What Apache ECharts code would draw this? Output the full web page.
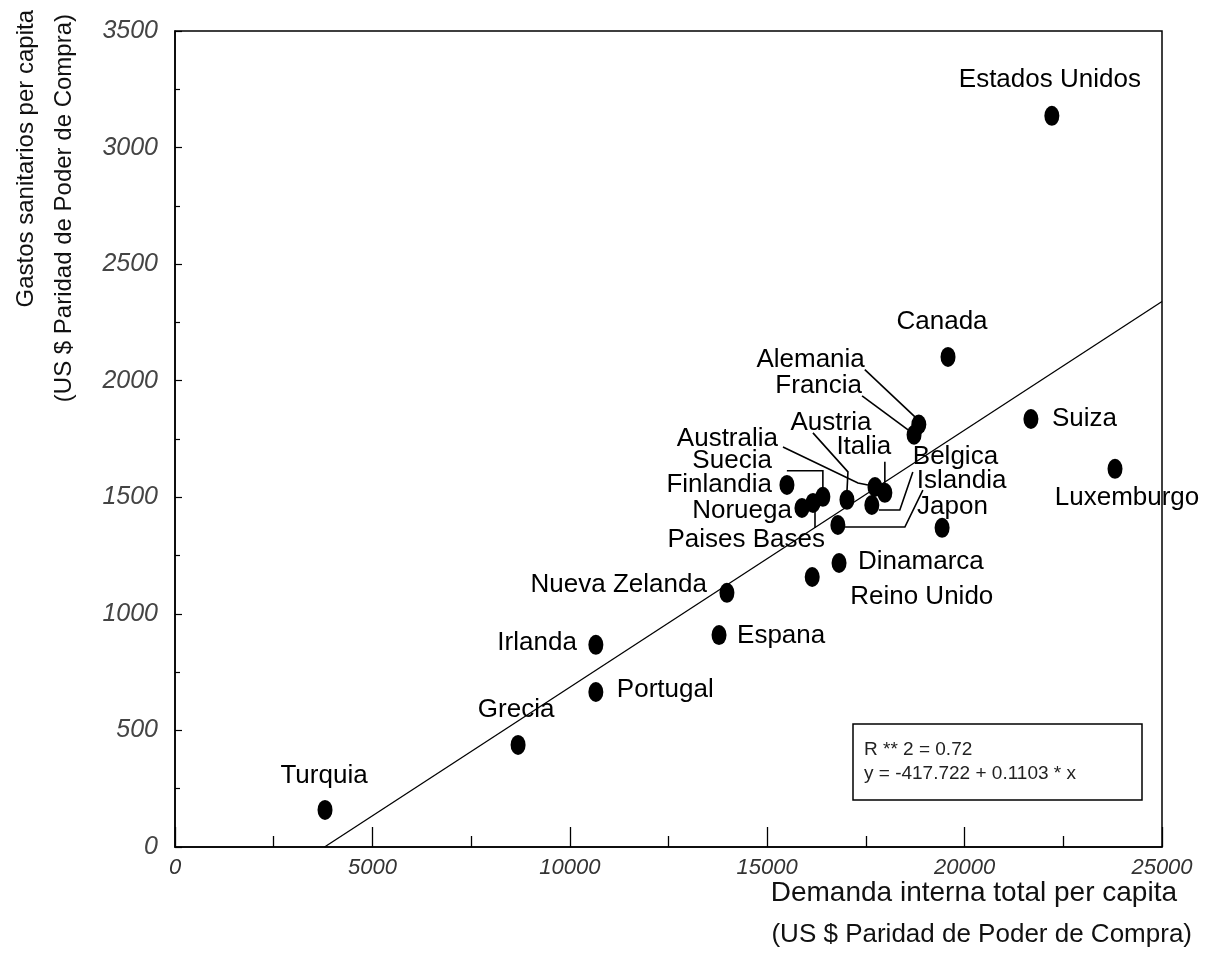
<!DOCTYPE html>
<html>
<head>
<meta charset="utf-8">
<script src="https://cdn.jsdelivr.net/npm/echarts@6/dist/echarts.min.js"></script>
<style>
  html, body { margin: 0; padding: 0; background: #fff; }
  #chart { width: 1211px; height: 965px; }
</style>
</head>
<body>
<div id="chart"></div>
<script>
// ---- data ----
const countries = ['Turquia','Grecia','Irlanda','Portugal','Espana','Nueva Zelanda','Reino Unido','Dinamarca',
  'Islandia','Finlandia','Noruega','Paises Bases','Suecia','Austria','Australia','Italia','Belgica','Japon',
  'Francia','Alemania','Canada','Suiza','Luxemburgo','Estados Unidos'];
const demandPerCapita = [3800, 8690, 10660, 10660, 13780, 13980, 16140, 16820,
  16790, 15500, 15880, 16160, 16410, 17020, 17730, 17980, 17650, 19430,
  18720, 18840, 19580, 21680, 23810, 22210];
const healthPerCapita = [159, 438, 867, 665, 909, 1090, 1158, 1218,
  1381, 1553, 1454, 1476, 1502, 1489, 1544, 1519, 1467, 1369,
  1768, 1812, 2102, 1836, 1622, 3136];
const xTickLabels = ['0','5000','10000','15000','20000','25000'];
const yTickLabels = ['0','500','1000','1500','2000','2500','3000','3500'];
const regIntercept = -417.722;
const regSlope = 0.1103;
const regText = ['R ** 2 = 0.72', 'y = -417.722 + 0.1103 * x'];

// ---- label layout (pixel offsets from each dot) ----
const labelLayout = {
  'Turquia': {a:'center', dx:-1, dy:-34},
  'Grecia': {a:'center', dx:-2, dy:-35},
  'Irlanda': {a:'right', dx:-19, dy:-2},
  'Portugal': {a:'left', dx:21, dy:-2},
  'Espana': {a:'left', dx:18, dy:1},
  'Nueva Zelanda': {a:'right', dx:-20, dy:-8},
  'Reino Unido': {a:'left', dx:38, dy:20},
  'Dinamarca': {a:'left', dx:19, dy:-1},
  'Islandia': {a:'left', dx:79, dy:-44, lead:[[85,-35],[67,2],[7,2]]},
  'Finlandia': {a:'right', dx:-15, dy:0},
  'Noruega': {a:'right', dx:-10, dy:3},
  'Paises Bases': {a:'right', dx:12, dy:37, lead:[[2,9],[2,25]]},
  'Suecia': {a:'right', dx:-51, dy:-36, lead:[[-36,-26],[0,-26],[0,-9]]},
  'Austria': {a:'center', dx:-16, dy:-77, lead:[[-34,-67],[1,-28],[0,-8]]},
  'Australia': {a:'right', dx:-97, dy:-48, lead:[[-92,-40],[-17,-4],[-7,-2]]},
  'Italia': {a:'center', dx:-21, dy:-46, lead:[[0,-31],[0,-10]]},
  'Belgica': {a:'left', dx:41, dy:-48, lead:[[41,-33],[28,5],[7,5]]},
  'Japon': {a:'left', dx:-25, dy:-21},
  'Francia': {a:'right', dx:-52, dy:-49, lead:[[-52,-39],[-6,-5]]},
  'Alemania': {a:'right', dx:-54, dy:-65, lead:[[-54,-55],[-2,-6]]},
  'Canada': {a:'center', dx:-6, dy:-35},
  'Suiza': {a:'left', dx:21, dy:0},
  'Luxemburgo': {a:'center', dx:12, dy:29},
  'Estados Unidos': {a:'center', dx:-2, dy:-36}
};

const FONT = "'Liberation Sans', Arial, Helvetica, sans-serif";
const chart = echarts.init(document.getElementById('chart'), null, {renderer: 'canvas'});

const pts = countries.map((c, i) => {
  const L = labelLayout[c];
  return {
    name: c,
    value: [demandPerCapita[i], healthPerCapita[i]],
    label: {
      show: true, position: 'inside', formatter: c,
      offset: [L.dx, L.dy], align: L.a, verticalAlign: 'middle'
    }
  };
});
const xZero = -regIntercept / regSlope;
const regLine = [[xZero, 0], [25000, regIntercept + regSlope * 25000]];

chart.setOption({
  animation: false,
  backgroundColor: '#fff',
  grid: { left: 175, right: 49, top: 31, bottom: 118, show: true, borderColor: '#000', borderWidth: 1.5, backgroundColor: 'transparent' },
  xAxis: {
    type: 'value', min: 0, max: 25000, interval: 5000,
    axisLine: { show: true, lineStyle: { color: '#000', width: 1.5 } },
    axisTick: { show: true, inside: true, length: 20, lineStyle: { color: '#000', width: 1.3 } },
    minorTick: { show: true, splitNumber: 2, length: 11, lineStyle: { color: '#000', width: 1.3 } },
    splitLine: { show: false },
    axisLabel: { fontFamily: FONT, fontStyle: 'italic', fontSize: 22, color: '#333', margin: 10,
      formatter: v => xTickLabels[Math.round(v / 5000)] }
  },
  yAxis: {
    type: 'value', min: 0, max: 3500, interval: 500,
    axisLine: { show: true, lineStyle: { color: '#000', width: 1.5 } },
    axisTick: { show: true, inside: true, length: 7, lineStyle: { color: '#000', width: 1.2 } },
    minorTick: { show: true, splitNumber: 2, length: 5, lineStyle: { color: '#000', width: 1.2 } },
    splitLine: { show: false },
    axisLabel: { fontFamily: FONT, fontStyle: 'italic', fontSize: 25, color: '#444', margin: 17,
      formatter: v => yTickLabels[Math.round(v / 500)] }
  },
  series: [
    {
      type: 'line', data: regLine, showSymbol: false, silent: true,
      lineStyle: { color: '#000', width: 1.3 }, z: 2
    },
    {
      type: 'scatter', data: pts, symbol: 'circle', symbolSize: [15, 20],
      itemStyle: { color: '#000', opacity: 1 },
      label: { fontFamily: FONT, fontSize: 26, color: '#000' },
      emphasis: { disabled: true },
      z: 3
    }
  ]
});

// leader lines and annotation graphics
const g = [];
countries.forEach((c, i) => {
  const L = labelLayout[c];
  if (!L.lead) return;
  const p = chart.convertToPixel({ seriesIndex: 1 }, [demandPerCapita[i], healthPerCapita[i]]);
  g.push({ type: 'polyline', silent: true, z: 10,
    shape: { points: L.lead.map(o => [p[0] + o[0], p[1] + o[1]]) },
    style: { stroke: '#000', lineWidth: 1.6, fill: null } });
});
// regression box
g.push({ type: 'rect', z: 10, shape: { x: 853, y: 724, width: 289, height: 76 },
  style: { stroke: '#000', lineWidth: 1.5, fill: '#fff' } });
g.push({ type: 'text', z: 11, x: 864, y: 750, style: { text: regText[0], font: '19px ' + FONT, fill: '#222', verticalAlign: 'middle' } });
g.push({ type: 'text', z: 11, x: 864, y: 774, style: { text: regText[1], font: '19px ' + FONT, fill: '#222', verticalAlign: 'middle' } });
// axis titles
g.push({ type: 'text', z: 11, x: 1177, y: 893, style: { text: 'Demanda interna total per capita', font: '28px ' + FONT, fill: '#111', align: 'right', verticalAlign: 'middle' } });
g.push({ type: 'text', z: 11, x: 1192, y: 935, style: { text: '(US $ Paridad de Poder de Compra)', font: '26px ' + FONT, fill: '#111', align: 'right', verticalAlign: 'middle' } });
g.push({ type: 'text', z: 11, x: 26, y: 10, rotation: Math.PI / 2, style: { text: 'Gastos sanitarios per capita', font: '24px ' + FONT, fill: '#111', align: 'right', verticalAlign: 'middle' } });
g.push({ type: 'text', z: 11, x: 64, y: 14, rotation: Math.PI / 2, style: { text: '(US $ Paridad de Poder de Compra)', font: '24px ' + FONT, fill: '#111', align: 'right', verticalAlign: 'middle' } });
chart.setOption({ graphic: g });
</script>
</body>
</html>
